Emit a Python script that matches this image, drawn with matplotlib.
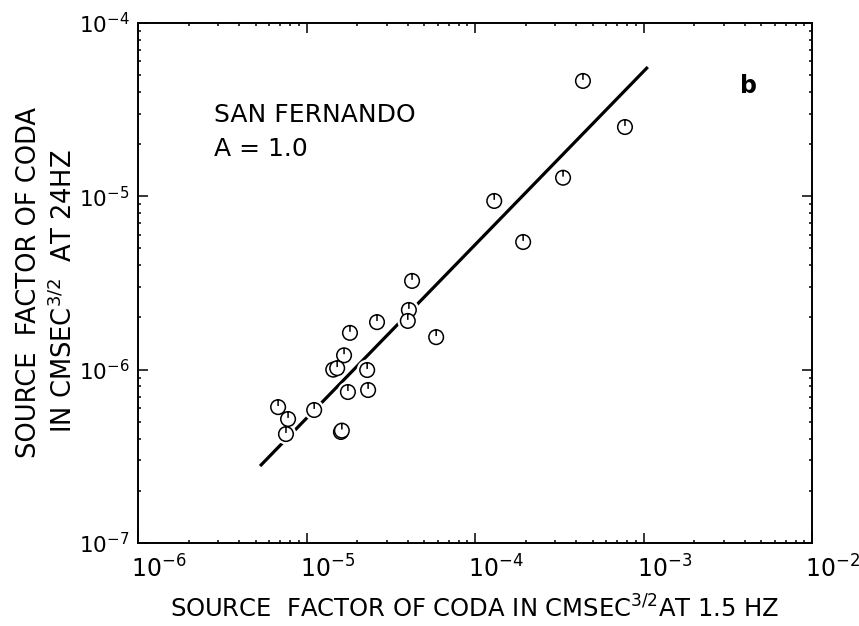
import numpy as np
import matplotlib
matplotlib.use("Agg")
import matplotlib.pyplot as plt
import matplotlib.patheffects as pe
import matplotlib.transforms as mtransforms
from matplotlib.path import Path
from matplotlib.ticker import LogLocator, NullFormatter

# source factors of coda, 1.5 Hz (x) vs 24 Hz (y), San Fernando events
coda15 = [4.37e-4, 7.76e-4, 3.33e-4, 1.30e-4, 1.93e-4, 4.23e-5, 4.05e-5, 3.99e-5,
          5.88e-5, 2.62e-5, 1.81e-5, 1.67e-5, 1.44e-5, 1.52e-5, 2.29e-5, 2.32e-5,
          1.76e-5, 1.11e-5, 6.78e-6, 7.77e-6, 7.55e-6, 1.60e-5, 1.62e-5]
coda24 = [4.63e-5, 2.51e-5, 1.28e-5, 9.4e-6, 5.45e-6, 3.25e-6, 2.21e-6, 1.91e-6,
          1.54e-6, 1.88e-6, 1.63e-6, 1.21e-6, 1.00e-6, 1.02e-6, 9.95e-7, 7.63e-7,
          7.43e-7, 5.85e-7, 6.08e-7, 5.19e-7, 4.25e-7, 4.37e-7, 4.45e-7]

# fitted line, slope A = 1.0 in log-log
fitX = [5.3e-6, 1.06e-3]
fitY = [2.78e-7, 5.57e-5]

xDecades = [1e-6, 1e-5, 1e-4, 1e-3, 1e-2]
xDecadeLabels = [r'$10^{-6}$', r'$10^{-5}$', r'$10^{-4}$', r'$10^{-3}$', r'$10^{-2}$']
yDecades = [1e-7, 1e-6, 1e-5, 1e-4]
yDecadeLabels = [r'$10^{-7}$', r'$10^{-6}$', r'$10^{-5}$', r'$10^{-4}$']

# circle with a short tick from the top, like the hand-plotted symbols
circ = Path.unit_circle()
markerPath = Path(np.vstack([circ.vertices, [[0, 1], [0, 0.15]]]),
                  np.concatenate([circ.codes, [Path.MOVETO, Path.LINETO]]))

fig = plt.figure(figsize=(8.59, 6.26), dpi=100)
ax = fig.add_axes([0.1607, 0.1326, 0.7846, 0.8307])

ax.plot(fitX, fitY, color='black', linewidth=2.3, solid_capstyle='butt', zorder=2)
ax.plot(coda15, coda24, linestyle='none', marker=markerPath, markersize=10.5,
        markerfacecolor='white', markeredgecolor='black', markeredgewidth=1.1,
        path_effects=[pe.Stroke(linewidth=4.5, foreground='white'), pe.Normal()],
        zorder=3)

ax.set_xscale('log')
ax.set_yscale('log')
ax.set_xlim(1e-6, 1e-2)
ax.set_ylim(1e-7, 1e-4)

ax.xaxis.set_minor_locator(LogLocator(base=10, subs=np.arange(2, 10), numticks=20))
ax.yaxis.set_minor_locator(LogLocator(base=10, subs=np.arange(2, 10), numticks=20))
ax.set_xticks(xDecades)
ax.set_xticklabels(xDecadeLabels, ha='left')
ax.set_yticks(yDecades)
ax.set_yticklabels(yDecadeLabels)
ax.xaxis.set_minor_formatter(NullFormatter())
ax.yaxis.set_minor_formatter(NullFormatter())

ax.tick_params(which='both', direction='in', top=True, right=True, width=1.1)
ax.tick_params(which='major', length=7)
ax.tick_params(axis='x', which='major', pad=9, labelsize=17)
ax.tick_params(axis='y', which='major', pad=6, labelsize=15.5)
# x labels start just left of their tick
shiftLeft = mtransforms.ScaledTranslation(-0.07, 0, fig.dpi_scale_trans)
for lbl in ax.get_xticklabels():
    lbl.set_transform(lbl.get_transform() + shiftLeft)
for s in ax.spines.values():
    s.set_linewidth(1.4)

ax.set_xlabel(r'SOURCE  FACTOR OF CODA IN CMSEC$^{3/2}$AT 1.5 HZ', fontsize=17.5, labelpad=9)
fig.text(0.034, 0.548, 'SOURCE  FACTOR OF CODA', rotation=90, fontsize=18.5,
         ha='center', va='center')
fig.text(0.074, 0.535, r'IN CMSEC$^{3/2}$  AT 24HZ', rotation=90, fontsize=18.5,
         ha='center', va='center')

ax.text(0.112, 0.81, 'SAN FERNANDO', transform=ax.transAxes, fontsize=18)
ax.text(0.112, 0.745, 'A = 1.0', transform=ax.transAxes, fontsize=18)
ax.text(0.893, 0.865, 'b', transform=ax.transAxes, fontsize=17, fontweight='bold')

fig.savefig('out.png', dpi=100)
